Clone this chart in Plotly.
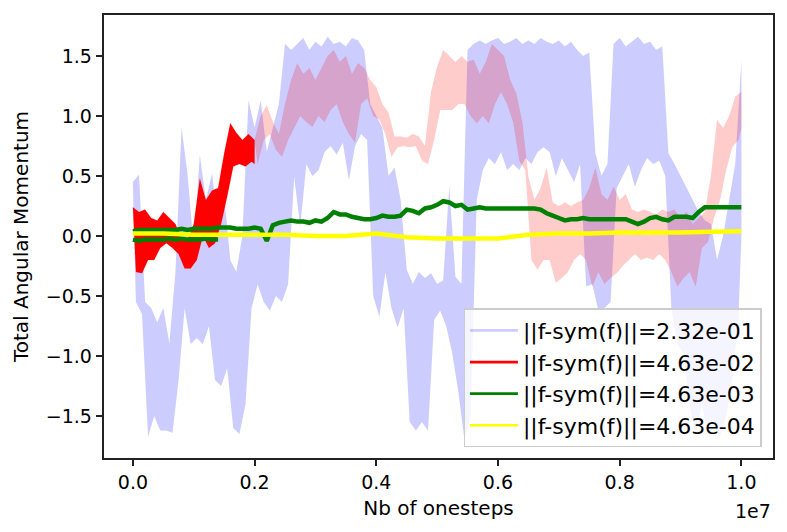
import plotly.graph_objects as go

STEP = 1e5  # 0.1e6 onesteps between readings

# Blue run (||f-sym(f)||=2.32e-01): upper/lower envelope read every 0.1e6 steps, 0..1e7
blue_hi = [0.45, 0.51, -0.55, -0.6, -0.72, -0.6, -0.9, -0.3, 0.9, 0.5,
           -0.1, 0.67, 0.3, 0.52, 0.1, 0.33, -0.2, -0.3, 0.0, 1.13,
           0.9, 1.13, 0.7, 0.9, 1.1, 1.6, 1.55, 1.6, 1.65, 1.55,
           1.62, 1.58, 1.66, 1.6, 1.62, 1.58, 1.65, 1.63, 1.55, 1.1,
           1.0, 0.9, 0.5, 0.57, 0.3, -0.28, -0.4, -0.3, -0.35, -0.31,
           -0.4, -0.37, 0.41, -0.34, -0.4, 1.55, 1.6, 1.63, 1.6, 1.63,
           1.65, 1.6, 1.62, 1.65, 1.6, 1.63, 1.6, 1.65, 1.62, 1.6,
           1.63, 1.58, 1.62, 1.55, 1.5, 1.53, 0.69, 0.5, 0.6, 1.6,
           1.65, 1.58, 1.62, 1.66, 1.6, 1.62, 1.55, 1.58, 0.69, 0.6,
           0.5, 0.4, 0.3, 0.2, 0.13, 0.1, -0.2, 0.0, 0.3, 0.6,
           1.45]
blue_lo = [-0.55, -0.65, -1.67, -1.5, -1.62, -1.62, -1.64, -1.2, -0.6, -0.9,
           -0.85, -0.9, -0.75, -1.2, -1.25, -1.1, -1.6, -1.65, -1.4, -0.6,
           -0.4, -0.55, -0.62, -0.5, -0.55, -0.4, 0.5, 0.08, 0.6, 0.5,
           0.55, 0.7, 0.75, 0.68, 0.78, 0.47, 0.75, 0.85, 0.8, -0.5,
           -0.67, -0.3, -0.6, -0.76, -0.6, -1.55, -1.62, -1.55, -1.62, -0.7,
           -0.62, -0.75, -0.98, -1.3, -1.7, -1.5, 0.3, 0.55, 0.65, 0.6,
           0.7, 0.55, 0.6, 0.55, 0.65, 0.6, 0.7, 0.74, 0.7, 0.5,
           0.65, 0.55, 0.45, 0.6, -0.42, -0.4, -0.62, -0.6, -0.55, 0.4,
           0.5, 0.6, 0.41, 0.55, 0.65, 0.6, 0.63, 0.5, -0.6, -0.9,
           -0.98, -1.4, -1.67, -1.4, -1.65, -1.6, -1.67, -1.5, -1.2, -0.7,
           0.0]

# Red run (||f-sym(f)||=4.63e-02): solid part 0..2e6
red_hi = [0.24, 0.2, 0.22, 0.15, 0.13, 0.2, 0.15, 0.1, -0.03, -0.03,
          0.1, 0.48, 0.3, 0.38, 0.4, 0.69, 0.94, 0.86, 0.8, 0.85,
          0.8]
red_lo = [-0.3, -0.31, -0.2, -0.2, -0.1, -0.06, -0.1, -0.15, -0.27, -0.27,
          -0.2, 0.0, -0.1, -0.06, 0.1, 0.33, 0.58, 0.6, 0.58, 0.62,
          0.6]

# Red run continued (faded), 2e6..1e7
red2_hi = [0.8, 1.0, 1.09, 0.95, 0.85, 1.1, 1.3, 1.44, 1.35, 1.4,
           1.3, 1.4, 1.5, 1.55, 1.45, 1.5, 1.35, 1.44, 1.4, 1.3,
           1.24, 1.1, 1.03, 0.83, 0.83, 0.82, 0.85, 0.83, 0.75, 1.2,
           1.41, 1.55, 1.5, 1.45, 1.5, 1.45, 1.47, 1.35, 1.45, 1.6,
           1.55, 1.5, 1.3, 1.19, 0.95, 0.49, 0.3, 0.4, 0.57, 0.28,
           0.25, 0.28, 0.25, 0.28, 0.3, 0.4, 0.57, 0.35, 0.3, 0.41,
           0.3, 0.35, 0.22, 0.2, 0.22, 0.2, 0.18, 0.22, 0.2, 0.22,
           0.15, 0.2, 0.1, 0.15, 0.2, 0.5, 0.97, 0.9, 1.0, 1.16,
           1.2]
red2_lo = [0.6, 0.8, 0.85, 0.72, 0.66, 0.8, 0.9, 1.0, 0.95, 0.91,
           1.0, 0.95, 1.05, 1.1, 0.95, 0.85, 0.78, 1.1, 1.15, 1.0,
           0.97, 0.85, 0.66, 0.74, 0.75, 0.74, 0.75, 0.63, 0.6, 0.8,
           1.05, 1.05, 1.05, 1.1, 1.1, 1.0, 0.94, 1.0, 0.94, 1.1,
           1.2, 1.1, 0.95, 0.63, 0.55, -0.2, -0.28, -0.2, -0.2, -0.39,
           -0.35, -0.3, -0.2, -0.15, -0.2, -0.42, -0.3, -0.4, -0.35, -0.31,
           -0.25, -0.2, -0.15, -0.2, -0.18, -0.2, -0.15, -0.2, -0.3, -0.42,
           -0.35, -0.3, -0.42, -0.1, -0.05, 0.15, 0.3, 0.55, 0.74, 0.8,
           0.9]

# Green run (||f-sym(f)||=4.63e-03), every 0.1e6
green = [0.04, 0.05, 0.05, 0.05, 0.05, 0.05, 0.05, 0.05, 0.06, 0.05,
         0.06, 0.06, 0.06, 0.06, 0.07, 0.07, 0.07, 0.06, 0.06, 0.06,
         0.07, 0.06, -0.04, 0.09, 0.11, 0.12, 0.13, 0.12, 0.12, 0.11,
         0.13, 0.12, 0.15, 0.2, 0.18, 0.18, 0.16, 0.15, 0.14, 0.14,
         0.15, 0.17, 0.16, 0.16, 0.17, 0.22, 0.21, 0.19, 0.23, 0.24,
         0.26, 0.29, 0.28, 0.25, 0.26, 0.22, 0.23, 0.24, 0.23, 0.23,
         0.23, 0.23, 0.23, 0.23, 0.23, 0.23, 0.23, 0.22, 0.19, 0.17,
         0.15, 0.13, 0.14, 0.14, 0.15, 0.14, 0.14, 0.14, 0.14, 0.14,
         0.14, 0.14, 0.12, 0.1, 0.12, 0.15, 0.16, 0.14, 0.13, 0.16,
         0.16, 0.16, 0.15, 0.2, 0.24, 0.24, 0.24, 0.24, 0.24, 0.24,
         0.24]
# second green segment, 0..1.4e6
green2 = [-0.03, -0.04, -0.03, -0.03, -0.03, -0.03, -0.02, -0.03, -0.02, -0.03,
          -0.03, -0.03, -0.02, -0.03, -0.03]

# Yellow run (||f-sym(f)||=4.63e-04), every 0.5e6
YSTEP = 5e5
yellow = [0.02, 0.02, 0.01, 0.01, 0.01, 0.01, 0.0, 0.0, 0.02, -0.01,
          -0.02, -0.02, -0.02, 0.01, 0.02, 0.02, 0.03, 0.03, 0.03, 0.035,
          0.04]

labels = ["||f-sym(f)||=2.32e-01", "||f-sym(f)||=4.63e-02",
          "||f-sym(f)||=4.63e-03", "||f-sym(f)||=4.63e-04"]

x_tickvals = [0, 2e6, 4e6, 6e6, 8e6, 1e7]
x_ticktext = ["0.0", "0.2", "0.4", "0.6", "0.8", "1.0"]
y_tickvals = [-1.5, -1.0, -0.5, 0.0, 0.5, 1.0, 1.5]

BLUE = "rgba(0,0,255,0.2)"
RED_FADED = "rgba(255,0,0,0.2)"


def band(hi, lo, x0=0.0, step=STEP):
    """Closed outline: upper readings left->right, lower readings right->left."""
    xu = [x0 + i * step for i in range(len(hi))]
    xl = [x0 + i * step + step / 2 for i in range(len(lo))]
    xl[-1] = xu[-1]
    return xu + xl[::-1] + [xu[0]], list(hi) + list(lo)[::-1] + [hi[0]]


def add_band(fig, hi, lo, color, x0=0.0):
    xs, ys = band(hi, lo, x0)
    fig.add_trace(go.Scatter(x=xs, y=ys, mode="lines", fill="toself", fillcolor=color,
                             line=dict(color=color, width=0.1, simplify=False),
                             showlegend=False, hoverinfo="skip"))


LW = 2.7
fig = go.Figure()
add_band(fig, blue_hi, blue_lo, BLUE)
add_band(fig, red2_hi, red2_lo, RED_FADED, x0=2e6)
add_band(fig, red_hi, red_lo, "red")
fig.add_trace(go.Scatter(x=[i * STEP for i in range(len(green))], y=green,
                         mode="lines", showlegend=False,
                         line=dict(color="green", width=4.5, simplify=False)))
fig.add_trace(go.Scatter(x=[i * STEP for i in range(len(green2))], y=green2,
                         mode="lines", showlegend=False,
                         line=dict(color="green", width=4.5, simplify=False)))
fig.add_trace(go.Scatter(x=[i * YSTEP for i in range(len(yellow))], y=yellow,
                         mode="lines", showlegend=False,
                         line=dict(color="yellow", width=4.5, simplify=False)))
# legend entries (line samples)
for lab, col in zip(labels, [BLUE, "red", "green", "yellow"]):
    fig.add_trace(go.Scatter(x=[None], y=[None], mode="lines", name=lab,
                             line=dict(color=col, width=LW)))

font = "DejaVu Sans"
axis_common = dict(showline=True, mirror=True, linecolor="#222222", linewidth=1.5,
                   ticks="outside", ticklen=6.5, tickwidth=1.5, tickcolor="#222222",
                   showgrid=False, zeroline=False,
                   tickfont=dict(family=font, size=19, color="black"))
fig.update_layout(
    width=787, height=532,
    margin=dict(l=104, r=12, t=15, b=74),
    plot_bgcolor="white", paper_bgcolor="white",
    font=dict(family=font, color="black"),
    xaxis=dict(range=[-0.475e6, 10.52e6], tickvals=x_tickvals, ticktext=x_ticktext,
               title=dict(text="Nb of onesteps", font=dict(family=font, size=20), standoff=9),
               **axis_common),
    yaxis=dict(range=[-1.85, 1.842], tickvals=y_tickvals, tickformat=".1f",
               title=dict(text="Total Angular Momentum", font=dict(family=font, size=20), standoff=12),
               **axis_common),
    legend=dict(x=0.983, y=0.024, xanchor="right", yanchor="bottom",
                bgcolor="rgba(255,255,255,0.8)", bordercolor="#cccccc", borderwidth=1.3,
                itemwidth=48,
                font=dict(family=font, size=22, color="black"), tracegroupgap=0),
    annotations=[dict(text="1e7", xref="paper", yref="paper", x=1.0, y=-0.09,
                      xanchor="right", yanchor="top", showarrow=False,
                      font=dict(family=font, size=19, color="black"))],
)
fig.write_html("out.html")
